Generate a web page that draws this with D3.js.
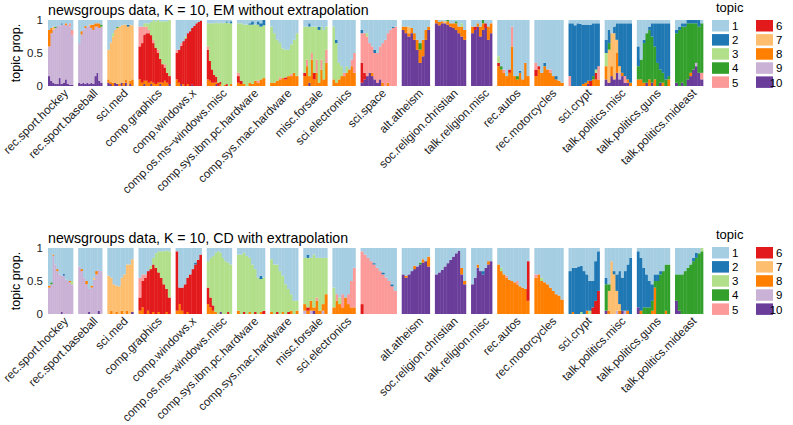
<!DOCTYPE html>
<html><head><meta charset="utf-8">
<script src="https://cdn.jsdelivr.net/npm/d3@7"></script>
<style>body{margin:0;background:#fff;} svg{display:block;font-family:"Liberation Sans",Arial,Helvetica,sans-serif;}</style>
</head><body><svg id="chart" width="793" height="425"></svg>
<script>
// ---------------- data ----------------
const topics = ["1","2","3","4","5","6","7","8","9","10"];
const topicColors = ["#A6CEE3","#1F78B4","#B2DF8A","#33A02C","#FB9A99","#E31A1C","#FDBF6F","#FF7F00","#CAB2D6","#6A3D9A"];
const newsgroups = ["rec.sport.hockey","rec.sport.baseball","sci.med","comp.graphics","comp.windows.x",
  "comp.os.ms\u2212windows.misc","comp.sys.ibm.pc.hardware","comp.sys.mac.hardware","misc.forsale","sci.electronics",
  "sci.space","alt.atheism","soc.religion.christian","talk.religion.misc","rec.autos","rec.motorcycles",
  "sci.crypt","talk.politics.misc","talk.politics.guns","talk.politics.mideast"];
const labelsEM = newsgroups.slice();
const labelsCD = newsgroups.map(g => g === "sci.space" ? "" : g);
const groupSizes = [25,24,26,32,26,25,28,28,24,23,36,28,31,21,32,29,31,27,33,28];
const yTicks = [0, 0.5, 1];
const yTickLabels = ["0","0.5","1"];
const titleEM = "newsgroups data, K = 10, EM without extrapolation";
const titleCD = "newsgroups data, K = 10, CD with extrapolation";
const yTitle = "topic prop.";
const legendTitle = "topic";

// EM panel: each bar = "topic:percent ..."
const em01 = ["10:15 9:45 8:25 1:15","10:8 9:72 8:8 1:12","10:5 9:80 7:5 1:10","10:3 9:85 4:2 1:10","10:3 9:88 1:9","10:12 9:80 1:8","10:3 9:90 2:2 1:5","10:5 9:88 1:7","10:10 9:82 8:3 1:5","10:3 9:90 1:7","10:2 9:88 5:5 1:5","10:2 9:75 5:8 1:15"];
const em02 = ["10:5 9:60 1:35","10:3 9:75 8:5 1:17","10:5 9:80 1:15","10:3 9:85 8:3 1:9","10:5 9:85 1:10","10:3 9:88 7:2 1:7","10:5 9:83 8:5 1:7","10:3 9:82 8:8 1:7","10:15 9:75 8:5 1:5","10:20 9:70 8:5 1:5","10:8 9:80 8:7 1:5","10:5 9:85 4:3 1:7"];
const em03 = ["10:5 8:5 7:45 1:45","10:3 8:3 7:60 1:34","8:5 7:70 3:5 1:20","10:5 7:80 1:15","10:3 7:85 4:2 1:10","8:3 7:87 1:10","10:5 7:87 1:8","8:5 7:88 1:7","10:5 8:5 7:83 1:7","7:90 2:3 1:7","10:3 8:5 7:85 1:7","8:10 7:82 1:8"];
const em04 = ["8:10 6:50 5:30 1:10","8:5 6:60 5:25 1:10","10:3 8:5 6:70 5:12 3:5 1:5","8:8 6:72 5:10 3:5 1:5","8:5 6:75 5:5 3:10 1:5","10:3 8:4 6:70 3:20 1:3","8:5 6:60 5:5 3:30","8:3 6:55 3:40 1:2","8:5 6:45 5:5 3:45","10:3 8:3 6:35 3:57 1:2","8:5 6:28 3:65 1:2","8:8 6:20 5:5 3:65 1:2","8:5 6:15 3:78 1:2","10:3 6:12 3:85"];
const em05 = ["8:10 6:40 5:5 1:45","8:5 6:50 1:45","10:3 6:58 5:4 1:35","8:3 6:65 1:32","6:72 3:3 1:25","8:3 6:77 1:20","6:83 1:17","10:2 6:86 1:12","6:91 1:9","6:95 1:5","6:97 1:3","6:99 1:1"];
const em06 = ["8:10 6:45 5:5 3:35 1:5","8:8 6:30 3:57 1:5","8:5 6:20 3:70 1:5","8:5 6:12 3:78 1:5","10:3 8:3 6:8 3:82 1:4","6:5 3:90 1:5","8:3 6:3 3:90 1:4","3:95 1:5","8:2 3:94 1:4","6:3 3:93 2:2 1:2","3:95 1:5","8:3 3:92 2:3 1:2"];
const em07 = ["8:5 6:10 5:5 3:75 1:5","8:3 6:5 3:87 1:5","8:3 3:90 1:7","3:93 1:7","8:5 3:88 2:2 1:5","8:3 3:90 2:5 1:2","8:8 3:85 1:7","8:5 5:3 3:85 2:5 1:2","8:10 3:80 2:5 1:5","8:12 3:80 2:8"];
const em08 = ["8:5 3:85 1:10","8:5 3:75 1:20","8:8 3:62 1:30","8:10 5:3 3:52 1:35","8:12 3:45 1:43","8:10 6:3 3:42 1:45","8:15 3:40 1:45","8:15 5:3 3:45 1:37","8:20 3:50 1:30","8:15 3:65 1:20"];
const em09 = ["8:15 6:5 3:70 1:10","8:30 5:10 3:50 1:10","10:5 8:10 3:75 2:5 1:5","8:40 5:10 3:40 1:10","8:10 6:10 3:70 1:10","8:20 5:20 3:50 1:10","8:5 3:80 2:5 1:10","8:25 5:15 3:50 1:10","8:10 3:75 1:15","8:35 5:20 3:35 1:10"];
const em10 = ["8:10 3:80 1:10","8:5 3:60 2:5 1:30","8:10 3:25 1:65","8:15 3:15 1:70","8:15 5:5 1:80","8:20 3:10 1:70","8:25 1:75","8:30 5:10 1:60","8:20 5:30 1:50"];
const em11 = ["10:5 6:30 5:45 2:5 1:15","10:10 6:10 5:60 1:20","10:15 5:60 3:5 1:20","10:20 5:45 1:35","10:15 8:5 5:40 1:40","10:10 5:40 2:5 1:45","10:5 5:45 1:50","10:10 5:50 1:40","8:5 5:60 1:35","5:70 1:30","8:5 5:75 1:20","5:85 1:15","5:88 2:2 1:10","5:90 1:10"];
const em12 = ["10:85 8:5 1:10","10:80 8:10 1:10","10:75 7:10 8:5 1:10","10:80 8:8 1:12","10:70 8:10 1:20","10:55 8:15 1:30","10:35 8:20 4:10 1:35","10:45 8:25 1:30","10:70 8:15 1:15","10:85 8:5 1:10"];
const em13 = ["10:95 8:5","10:92 8:5 1:3","10:95 8:3 1:2","10:95 7:3 1:2","10:93 8:5 4:2","10:90 8:5 1:5","10:88 8:7 1:5","10:85 8:10 4:3 1:2","10:80 8:10 1:10","10:75 8:15 3:5 1:5","10:70 8:15 1:15"];
const em14 = ["10:80 8:10 1:10","10:85 6:5 1:10","10:90 8:5 1:5","10:75 8:15 1:10","10:85 8:10 4:5","10:88 6:7 1:5","10:70 8:20 1:10","10:80 8:15 1:5"];
const em15 = ["8:30 6:5 3:10 1:55","8:25 4:5 1:70","8:20 5:5 1:75","8:15 1:85","8:20 6:5 1:75","8:60 5:30 1:10","8:15 1:85","8:10 4:5 1:85","8:20 2:3 1:77","8:10 1:90","8:35 1:65","8:15 1:85"];
const em16 = ["8:15 6:10 5:10 1:65","8:25 6:5 1:70","8:20 1:80","8:30 2:5 1:65","8:25 1:75","8:20 5:5 1:75","8:15 1:85","8:10 2:5 1:85","8:8 1:92","8:5 1:95"];
const em17 = ["5:15 2:80 1:5","2:95 1:5","2:92 1:8","2:95 1:5","2:94 1:6","8:3 2:90 1:7","8:5 2:88 1:7","10:3 8:5 2:85 1:7","6:8 2:85 1:7","8:10 4:5 2:80 1:5","8:10 6:10 3:5 2:70 1:5","8:10 5:20 2:65 1:5"];
const em18 = ["10:10 8:20 3:20 2:20 1:30","10:5 7:50 4:10 2:20 1:15","10:15 8:15 7:50 1:20","10:10 7:70 2:10 1:10","10:20 8:30 7:20 2:25 1:5","10:10 9:10 7:10 2:65 1:5","10:15 8:5 2:75 1:5","10:5 5:10 2:80 1:5","10:5 8:5 2:85 1:5","8:5 2:90 1:5"];
const em19 = ["8:10 4:20 2:30 1:40","8:10 4:30 1:60","8:5 4:60 2:5 1:30","10:5 4:75 1:20","8:10 4:75 2:5 1:10","10:5 4:70 2:20 1:5","8:10 4:50 2:35 1:5","4:35 2:60 1:5","10:5 4:20 2:70 1:5","8:5 4:15 2:75 1:5","4:10 2:85 1:5","8:10 4:5 2:80 1:5"];
const em20 = ["10:5 4:75 2:5 1:15","4:85 2:5 1:10","10:5 4:85 2:5 1:5","4:90 2:5 1:5","10:10 4:85 2:5","10:15 8:5 4:75 2:5","10:25 4:70 2:5","10:30 9:5 4:60 2:5","10:20 4:70 2:10","10:10 5:10 4:75 1:5"];

// CD panel
const cd01 = ["9:40 8:3 1:57","9:45 4:3 1:52","9:88 8:2 1:10","9:75 1:25","9:65 8:3 1:32","9:60 1:40","10:3 9:55 1:42","9:58 2:3 1:39","9:52 1:48","9:50 1:50","9:48 8:2 1:50","9:45 3:5 1:50"];
const cd02 = ["9:72 1:28","9:65 8:3 1:32","9:55 1:45","9:45 8:5 1:50","10:3 9:35 1:62","9:40 8:3 1:57","9:52 7:3 1:45","9:60 8:5 1:35","10:5 9:62 1:33","9:65 1:35"];
const cd03 = ["7:58 1:42","8:5 7:50 1:45","7:45 1:55","7:40 8:3 1:57","7:42 1:58","8:5 7:50 1:45","7:60 1:40","7:70 8:5 1:25","7:75 1:25","10:3 7:80 1:17"];
const cd04 = ["8:5 6:20 5:30 1:45","8:10 6:40 5:10 1:40","6:55 5:5 1:40","8:5 6:60 1:35","6:68 3:5 1:27","8:3 6:72 3:10 1:15","6:70 3:22 1:8","8:3 6:60 3:32 1:5","6:55 3:40 1:5","6:45 3:50 1:5","8:3 6:35 3:58 1:4","6:25 3:70 1:5"];
const cd05 = ["8:5 6:90 1:5","8:15 6:25 1:60","8:5 6:35 1:60","6:45 1:55","8:3 6:52 1:45","6:60 1:40","6:68 1:32","6:75 2:3 1:22","6:82 1:18","6:90 1:10"];
const cd06 = ["8:15 6:25 3:40 1:20","8:10 6:15 3:60 1:15","8:5 6:8 3:75 1:12","8:3 3:90 1:7","3:95 1:5","10:3 3:90 1:7","3:85 1:15","3:80 1:20","6:3 3:75 1:22","3:75 1:25"];
const cd07 = ["8:5 3:85 1:10","3:90 1:10","6:3 3:90 1:7","3:88 1:12","8:3 3:82 1:15","3:75 1:25","6:3 3:65 1:32","3:55 1:45","8:3 3:50 2:5 1:42","6:5 3:50 1:45"];
const cd08 = ["8:3 3:80 1:17","3:75 1:25","6:3 3:72 1:25","3:65 1:35","8:3 3:55 1:42","3:45 1:55","6:3 3:35 1:62","8:5 3:25 1:70","3:20 1:80","8:5 3:15 1:80"];
const cd09 = ["9:5 8:10 3:70 1:15","8:5 6:5 3:75 2:5 1:10","9:5 8:15 3:65 1:15","10:5 8:5 3:80 1:10","8:20 5:5 3:60 1:15","8:5 3:80 1:15","9:5 8:10 3:70 1:15","8:30 3:55 1:15"];
const cd10 = ["8:10 3:30 1:60","8:20 5:10 1:70","8:15 3:10 1:75","8:10 5:20 1:70","8:25 1:75","8:15 5:15 1:70","8:10 5:40 1:50","8:10 5:60 1:30"];
const cd11 = ["6:15 5:80 1:5","5:90 1:10","5:85 1:15","5:80 1:20","5:75 2:2 1:23","5:70 1:30","5:65 1:35","5:60 2:3 1:37","5:55 1:45","5:50 1:50","5:42 2:3 1:55","5:35 1:65"];
const cd12 = ["10:60 1:40","10:55 8:3 1:42","10:60 1:40","10:65 1:35","10:68 8:5 1:27","10:72 1:28","10:75 4:3 1:22","10:78 8:5 1:17","10:80 1:20","10:72 8:15 1:13"];
const cd13 = ["10:60 1:40","10:63 1:37","10:67 1:33","10:72 1:28","10:77 1:23","10:82 1:18","10:87 1:13","10:92 1:8","10:96 1:4","10:60 8:10 1:30","10:45 8:5 1:50"];
const cd14 = ["10:45 1:55","10:55 1:45","10:70 8:5 1:25","10:65 1:35","10:60 2:5 1:35","10:70 1:30","10:75 8:5 1:20","10:80 1:20"];
const cd15 = ["8:75 1:25","8:65 3:5 1:30","8:60 1:40","8:55 5:3 1:42","8:52 1:48","8:50 1:50","8:48 1:52","8:45 5:5 1:50","8:42 1:58","8:40 1:60","8:38 1:62","8:20 6:60 1:20"];
const cd16 = ["8:55 5:5 1:40","8:60 1:40","8:50 3:5 1:45","8:48 1:52","8:45 1:55","8:40 1:60","8:35 1:65","8:30 1:70","8:28 1:72","8:22 1:78"];
const cd17 = ["2:65 1:35","8:3 2:67 1:30","2:70 1:30","2:72 1:28","3:3 2:70 1:27","2:65 1:35","8:5 2:55 1:40","3:5 2:45 1:50","6:10 2:40 1:50","6:20 2:60 1:20","6:35 2:60 1:5"];
const cd18 = ["10:5 4:40 2:10 1:45","8:5 7:30 4:10 1:55","7:80 1:20","7:60 2:5 1:35","9:5 7:30 2:25 1:40","8:5 7:10 2:50 1:35","10:5 2:50 1:45","9:5 2:60 1:35","8:5 2:70 1:25","2:85 1:15"];
const cd19 = ["10:10 2:85 1:5","8:5 2:80 1:15","4:10 2:60 1:30","4:10 2:50 1:40","4:10 2:40 1:50","8:5 4:15 2:25 1:55","8:40 4:10 2:10 1:40","4:50 2:10 1:40","4:60 2:5 1:35","4:65 1:35","8:5 4:70 1:25","4:75 1:25"];
const cd20 = ["10:20 4:40 1:40","10:5 4:55 1:40","4:60 1:40","4:65 1:35","4:70 1:30","4:75 1:25","4:80 2:5 1:15","4:85 2:8 1:7","4:92 1:8","4:95 3:5"];

const emFacets = [em01,em02,em03,em04,em05,em06,em07,em08,em09,em10,em11,em12,em13,em14,em15,em16,em17,em18,em19,em20];
const cdFacets = [cd01,cd02,cd03,cd04,cd05,cd06,cd07,cd08,cd09,cd10,cd11,cd12,cd13,cd14,cd15,cd16,cd17,cd18,cd19,cd20];

// ---------------- drawing ----------------
const svg = d3.select("#chart");
const color = d3.scaleOrdinal().domain(topics).range(topicColors);
const stackKeys = topics.slice().reverse(); // topic 10 at the bottom, topic 1 on top
const stack = d3.stack().keys(stackKeys);

function parseBar(s) {
  const o = {}; topics.forEach(t => o[t] = 0);
  s.trim().split(/\s+/).forEach(p => { const [k, v] = p.split(":"); o[k] += +v; });
  const tot = d3.sum(topics, t => o[t]);
  topics.forEach(t => o[t] = o[t] / tot);
  return o;
}

const plotX0 = 48, plotX1 = 703, gap = 5.15;
const totalSize = d3.sum(groupSizes);
const xUnit = d3.scaleLinear().domain([0, totalSize]).range([plotX0, plotX1 - gap * (groupSizes.length - 1)]);
const cum = d3.cumsum([0].concat(groupSizes));
const facetRange = groupSizes.map((s, i) => [xUnit(cum[i]) + i * gap, xUnit(cum[i + 1]) + i * gap]);

function drawPanel(cfg) {
  const g = svg.append("g");
  const y = d3.scaleLinear().domain([0, 1]).range([cfg.bottom, cfg.top]);

  g.append("text").attr("x", plotX0).attr("y", cfg.titleY)
    .attr("font-size", 14.2).attr("fill", "#000").text(cfg.title);

  // y axis
  const yAxis = d3.axisLeft(y).tickValues(yTicks).tickFormat((d, i) => yTickLabels[i]).tickSize(0).tickPadding(4);
  const ax = g.append("g").attr("transform", `translate(${plotX0 - 1},0)`).call(yAxis);
  ax.select(".domain").remove();
  ax.selectAll("text").attr("font-size", 11.5).attr("fill", "#222").attr("font-family", "Liberation Sans, Arial, sans-serif");

  g.append("text").attr("transform", `translate(19.5,${(cfg.top + cfg.bottom) / 2}) rotate(-90)`)
    .attr("text-anchor", "middle").attr("font-size", 12.5).attr("fill", "#000").text(yTitle);

  cfg.facets.forEach((bars, i) => {
    const data = bars.map(parseBar);
    const series = stack(data);
    const xb = d3.scaleBand().domain(d3.range(data.length)).range(facetRange[i]).padding(0);
    const fg = g.append("g");
    fg.selectAll("g").data(series).join("g").attr("fill", d => color(d.key))
      .selectAll("rect").data(d => d).join("rect")
      .attr("x", (d, j) => xb(j)).attr("width", xb.bandwidth() + 0.35)
      .attr("y", d => y(d[1])).attr("height", d => Math.max(0, y(d[0]) - y(d[1])));
    const cx = (facetRange[i][0] + facetRange[i][1]) / 2 + 2;
    const ly = cfg.bottom + 1.5;
    g.append("text").attr("x", cx).attr("y", ly).attr("dy", "0.76em")
      .attr("text-anchor", "end").attr("font-size", 11.7).attr("fill", "#222")
      .attr("transform", `rotate(-45,${cx},${ly})`).text(cfg.labels[i]);
  });

  // legend
  const lg = g.append("g");
  lg.append("text").attr("x", 716).attr("y", cfg.legendTitleY).attr("font-size", 13).attr("fill", "#000").text(legendTitle);
  topics.forEach((t, k) => {
    const col = Math.floor(k / 5), row = k % 5;
    const kx = 712 + col * 44, ky = cfg.legendTop + row * 14.1;
    lg.append("rect").attr("x", kx).attr("y", ky).attr("width", 17).attr("height", 11.5).attr("fill", color(t));
    lg.append("text").attr("x", kx + 26.5).attr("y", ky + 6).attr("dy", "0.36em").attr("text-anchor", "end")
      .attr("font-size", 11.5).attr("fill", "#000").text(t);
  });
}

drawPanel({title: titleEM, titleY: 14.5, top: 20, bottom: 86, facets: emFacets, labels: labelsEM, legendTitleY: 12, legendTop: 20});
drawPanel({title: titleCD, titleY: 242.5, top: 248, bottom: 314, facets: cdFacets, labels: labelsCD, legendTitleY: 239, legendTop: 247});
</script></body></html>
